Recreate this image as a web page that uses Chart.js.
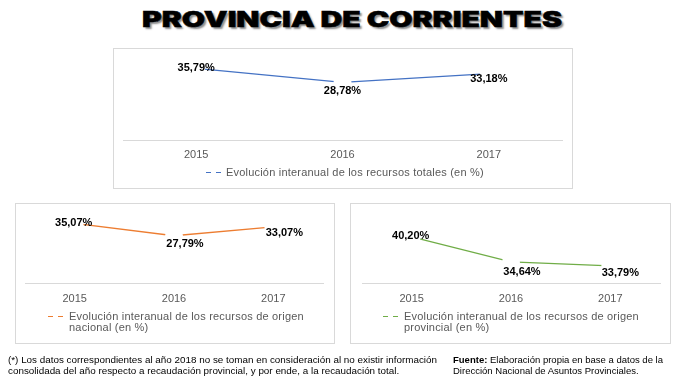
<!DOCTYPE html>
<html>
<head>
<meta charset="utf-8">
<script src="https://cdn.jsdelivr.net/npm/chart.js@4/dist/chart.umd.min.js"></script>
<style>
  html, body { margin:0; padding:0; background:#fff; }
  body { width:681px; height:382px; position:relative; overflow:hidden; font-family:"Liberation Sans", Arial, sans-serif; }
  .abs { position:absolute; white-space:nowrap; }
  #title { left:0; top:8px; font-family:Inter, "Liberation Sans", sans-serif; font-weight:900; font-size:21px; line-height:24px; color:#000;
           -webkit-text-stroke:0.5px #000; text-shadow:1.5px 1.5px 1.5px rgba(0,0,0,0.45); transform-origin:0 0; }
  .box { position:absolute; box-sizing:border-box; border:1px solid #d9d9d9; background:#fff; }
  .box canvas { position:absolute; left:0; top:0; }
  .leg { position:absolute; font-size:11px; letter-spacing:0.2px; line-height:11px; color:#595959; white-space:nowrap; }
  .sym { position:absolute; height:0; width:15px; }
  .sym i { position:absolute; top:0; width:5px; height:1.3px; }
  .foot { position:absolute; font-size:9.5px; line-height:11px; color:#000; white-space:nowrap; transform-origin:0 0; will-change:transform; -webkit-font-smoothing:antialiased; }
</style>
</head>
<body>
<div id="title" class="abs">PROVINCIA DE CORRIENTES</div>

<div class="box" style="left:113px;top:48px;width:460px;height:141px;"><canvas id="c1" width="458" height="139"></canvas></div>
<div class="box" style="left:15px;top:203px;width:320px;height:141px;"><canvas id="c2" width="318" height="139"></canvas></div>
<div class="box" style="left:350px;top:203px;width:321px;height:141px;"><canvas id="c3" width="319" height="139"></canvas></div>

<div id="leg1"></div><div id="leg2"></div><div id="leg3"></div>

<div class="foot" id="f1" style="left:8px;top:354px;">(*) Los datos correspondientes al año 2018 no se toman en consideración al no existir información</div>
<div class="foot" id="f2" style="left:8px;top:365px;">consolidada del año respecto a recaudación provincial, y por ende, a la recaudación total.</div>
<div class="foot" id="f3" style="left:453px;top:354px;"><b>Fuente:</b> Elaboración propia en base a datos de la</div>
<div class="foot" id="f4" style="left:453px;top:365px;">Dirección Nacional de Asuntos Provinciales.</div>

<script>
// ---- data ----
const years = ['2015', '2016', '2017'];
const totales = [35.79, 28.78, 33.18];
const nacional = [35.07, 27.79, 33.07];
const provincial = [40.20, 34.64, 33.79];
const legendTotales = ['Evolución interanual de los recursos totales (en %)'];
const legendNacional = ['Evolución interanual de los recursos de origen', 'nacional (en %)'];
const legendProvincial = ['Evolución interanual de los recursos de origen', 'provincial (en %)'];

// ---- helpers ----
function fmt(v) { return v.toFixed(2).replace('.', ',') + '%'; }

const labelPlugin = {
  id: 'pointLabels',
  afterDatasetsDraw(chart) {
    const ctx = chart.ctx;
    const offs = chart.options.plugins.pointLabels.offsets;
    chart.data.datasets.forEach((ds, di) => {
      const meta = chart.getDatasetMeta(di);
      meta.data.forEach((pt, i) => {
        const o = offs[i] || [0, 0];
        ctx.save();
        ctx.font = 'bold 11px "Liberation Sans", Arial, sans-serif';
        ctx.fillStyle = '#000';
        ctx.textAlign = 'center';
        ctx.textBaseline = 'middle';
        ctx.fillText(fmt(ds.data[i]), pt.x + o[0], pt.y + o[1]);
        ctx.restore();
      });
    });
  }
};

function makeChart(id, values, color, yMin, yMax, pad, bottomH, tickPad, offsets) {
  return new Chart(document.getElementById(id), {
    type: 'line',
    data: {
      labels: years,
      datasets: [{
        data: values,
        borderColor: color,
        borderWidth: 1.3,
        tension: 0,
        pointRadius: 9,
        pointHoverRadius: 9,
        pointBackgroundColor: '#fff',
        pointBorderColor: '#fff',
        pointBorderWidth: 0
      }]
    },
    options: {
      responsive: false,
      animation: false,
      events: [],
      layout: { padding: pad },
      plugins: {
        legend: { display: false },
        tooltip: { enabled: false },
        pointLabels: { offsets: offsets }
      },
      scales: {
        x: {
          offset: true,
          grid: { display: false, drawTicks: false },
          border: { display: true, color: '#d9d9d9', width: 1 },
          ticks: { color: '#595959', padding: tickPad, font: { family: '"Liberation Sans", Arial, sans-serif', size: 11 } },
          afterFit(s) { s.height = bottomH; }
        },
        y: { display: false, min: yMin, max: yMax }
      }
    },
    plugins: [labelPlugin]
  });
}

makeChart('c1', totales, '#4472C4', 0, 40, { left: 9, right: 10, top: 11, bottom: 0 }, 48, 8, [[0, 0], [0, 9], [0, 5]]);
makeChart('c2', nacional, '#ED7D31', 0, 40, { left: 9, right: 11, top: 11, bottom: 0 }, 60, 9, [[-1, 0], [11, 8.5], [11, 6]]);
makeChart('c3', provincial, '#70AD47', 30, 45, { left: 11, right: 10, top: 11, bottom: 0 }, 60, 9, [[-1, -1], [11, 10], [10, 7]]);

// ---- legends (HTML text) ----
function legend(hostId, lines, color, symLeft, textLeft, top) {
  const host = document.getElementById(hostId);
  const sym = document.createElement('div');
  sym.className = 'sym';
  sym.style.left = symLeft + 'px';
  sym.style.top = (top + 5) + 'px';
  sym.innerHTML = '<i style="left:0;background:' + color + '"></i><i style="left:10px;background:' + color + '"></i>';
  host.appendChild(sym);
  lines.forEach((t, i) => {
    const d = document.createElement('div');
    d.className = 'leg';
    d.style.left = textLeft + 'px';
    d.style.top = (top + i * 11) + 'px';
    d.textContent = t;
    host.appendChild(d);
  });
}
legend('leg1', legendTotales, '#4472C4', 206, 226, 167);
legend('leg2', legendNacional, '#ED7D31', 48, 69, 311);
legend('leg3', legendProvincial, '#70AD47', 383, 404, 311);

// ---- fit text widths ----
const t = document.getElementById('title');
const tw = t.getBoundingClientRect().width;
t.style.left = '142px';
t.style.transform = 'scaleX(' + (420 / tw) + ')';
const f1 = document.getElementById('f1'), f2 = document.getElementById('f2');
const s1 = 429 / f1.getBoundingClientRect().width;
f1.style.transform = 'scaleX(' + s1 + ')';
f2.style.transform = 'scaleX(' + s1 + ')';
const f3 = document.getElementById('f3'), f4 = document.getElementById('f4');
const s3 = 210 / f3.getBoundingClientRect().width;
f3.style.transform = 'scaleX(' + s3 + ')';
f4.style.transform = 'scaleX(' + s3 + ')';
</script>
</body>
</html>
